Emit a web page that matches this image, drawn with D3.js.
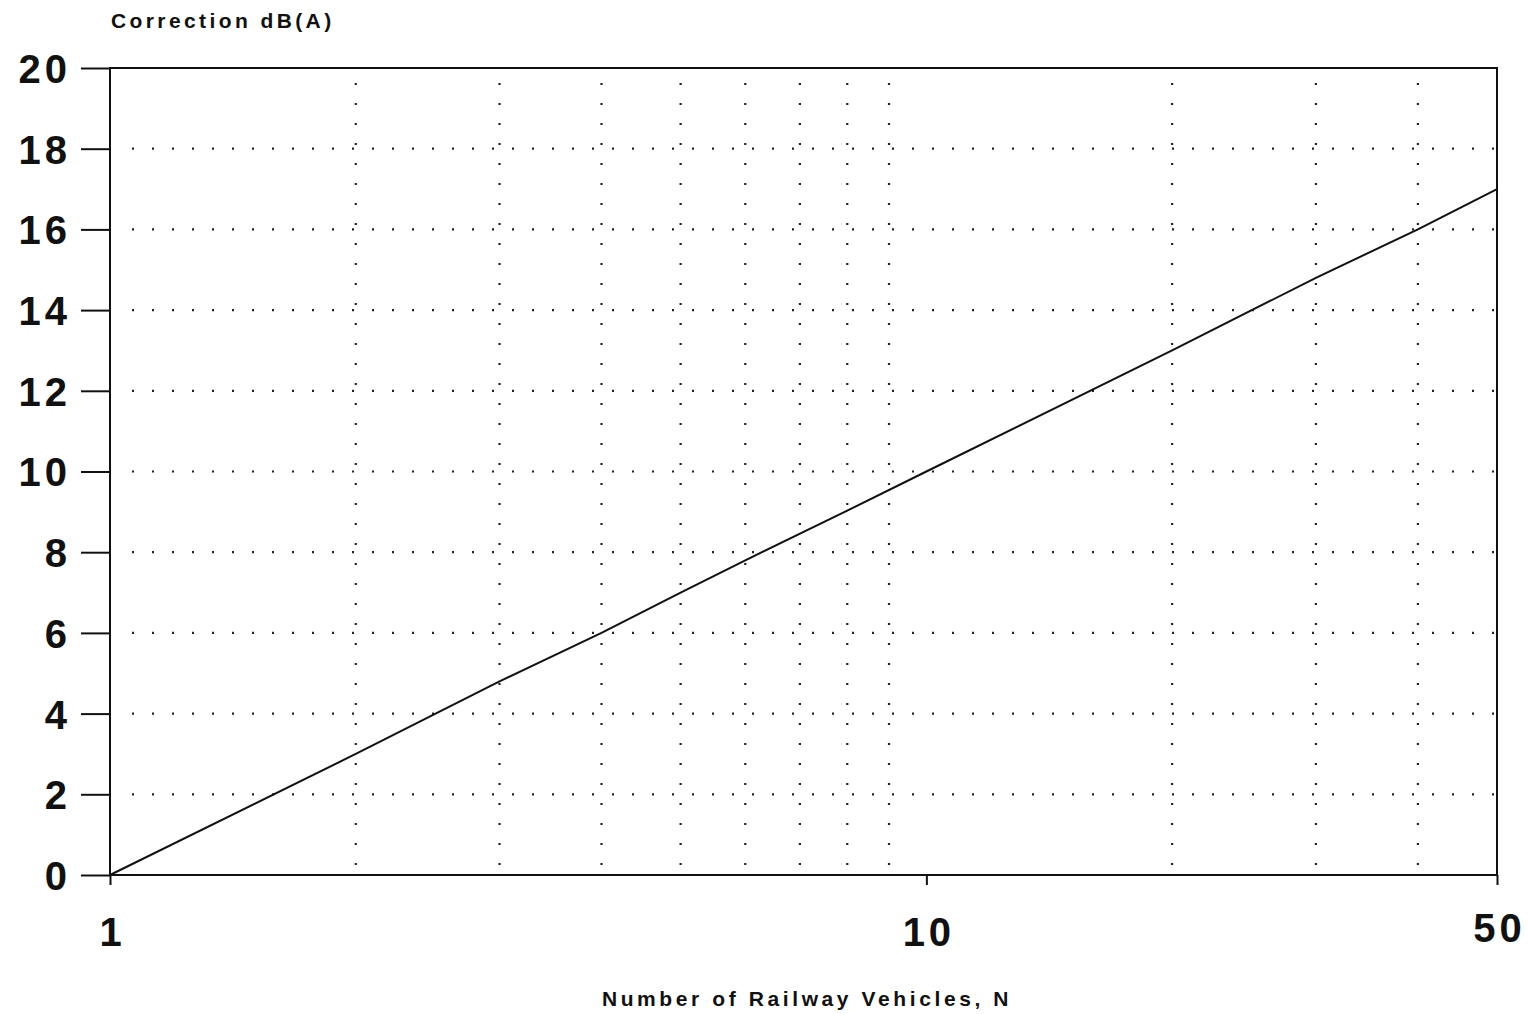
<!DOCTYPE html>
<html>
<head>
<meta charset="utf-8">
<script src="https://cdn.jsdelivr.net/npm/d3@7"></script>
<style>
  html, body { margin: 0; padding: 0; background: #fff; }
  svg { display: block; }
  text { font-family: "Liberation Sans", Arial, Helvetica, sans-serif; fill: #111; }
</style>
</head>
<body>
<svg id="chart" width="1528" height="1014"></svg>
<script>
// Correction in dB(A) against number of railway vehicles
const vehicles = [1, 2, 3, 4, 5, 6, 8, 10, 20, 30, 40, 50];
const correction = [0, 3.0, 4.8, 6.0, 7.0, 7.8, 9.03, 10.0, 13.0, 14.8, 16.0, 17.0];

const xTickValues = [1, 10, 50];
const xTickLabels = ["1", "10", "50"];
const xGridValues = [2, 3, 4, 5, 6, 7, 8, 9, 20, 30, 40];
const yTickValues = [0, 2, 4, 6, 8, 10, 12, 14, 16, 18, 20];
const yGridValues = [2, 4, 6, 8, 10, 12, 14, 16, 18];

const yTitle = "Correction dB(A)";
const xTitle = "Number of Railway Vehicles, N";

const svg = d3.select("#chart");
const plotLeft = 110, plotRight = 1497, plotTop = 68, plotBottom = 875;
const tickFont = "40px";
const tickSpacing = 4;

const x = d3.scaleLog().domain([1, 50]).range([plotLeft, plotRight]);
const y = d3.scaleLinear().domain([0, 20]).range([plotBottom, plotTop]);

// dotted grid
const grid = svg.append("g").attr("stroke", "#222").attr("stroke-width", 2.2)
  .attr("stroke-dasharray", "2,18").attr("stroke-linecap", "butt");
grid.selectAll("line.v").data(xGridValues).join("line").attr("class", "v")
  .attr("x1", d => x(d)).attr("x2", d => x(d))
  .attr("y1", plotBottom - 10).attr("y2", plotTop + 10);
grid.selectAll("line.h").data(yGridValues).join("line").attr("class", "h")
  .attr("x1", plotLeft + 22).attr("x2", plotRight)
  .attr("y1", d => y(d)).attr("y2", d => y(d));

// frame
svg.append("rect")
  .attr("x", plotLeft).attr("y", plotTop)
  .attr("width", plotRight - plotLeft).attr("height", plotBottom - plotTop)
  .attr("fill", "none").attr("stroke", "#111").attr("stroke-width", 2);

// y axis
const yAxis = d3.axisLeft(y).tickValues(yTickValues).tickSize(29).tickPadding(14 - tickSpacing)
  .tickFormat(d3.format("d"));
const gy = svg.append("g").attr("transform", `translate(${plotLeft},0)`).call(yAxis);
gy.select(".domain").remove();
gy.selectAll(".tick line").attr("stroke", "#111").attr("stroke-width", 2);
gy.selectAll(".tick text")
  .style("font-family", "'Liberation Sans', Arial, sans-serif")
  .style("font-weight", "bold").style("font-size", tickFont)
  .style("letter-spacing", tickSpacing + "px").attr("fill", "#111")
  .attr("dy", "0.36em");

// x axis
const xAxis = d3.axisBottom(x).tickValues(xTickValues).tickSize(10).tickPadding(33)
  .tickFormat((d, i) => xTickLabels[i]);
const gx = svg.append("g").attr("transform", `translate(0,${plotBottom})`).call(xAxis);
gx.select(".domain").remove();
gx.selectAll(".tick line").attr("stroke", "#111").attr("stroke-width", 2);
gx.selectAll(".tick text")
  .style("font-family", "'Liberation Sans', Arial, sans-serif")
  .style("font-weight", "bold").style("font-size", tickFont)
  .style("letter-spacing", tickSpacing + "px").attr("fill", "#111")
  .attr("dx", (tickSpacing / 2) + "px");
gx.selectAll(".tick text").filter((d, i) => i === 2).attr("dx", "2px").attr("dy", "0.6em");

// correction curve
const line = d3.line().x((d, i) => x(vehicles[i])).y(d => y(d));
svg.append("path").datum(correction)
  .attr("d", line).attr("fill", "none")
  .attr("stroke", "#111").attr("stroke-width", 2);

// titles
svg.append("text").attr("x", 111).attr("y", 28)
  .style("font-size", "21px").style("font-weight", "bold").style("letter-spacing", "3.4px")
  .text(yTitle);
svg.append("text").attr("x", 807).attr("y", 1006).attr("text-anchor", "middle")
  .style("font-size", "21px").style("font-weight", "bold").style("letter-spacing", "3.6px")
  .text(xTitle);
</script>
</body>
</html>
